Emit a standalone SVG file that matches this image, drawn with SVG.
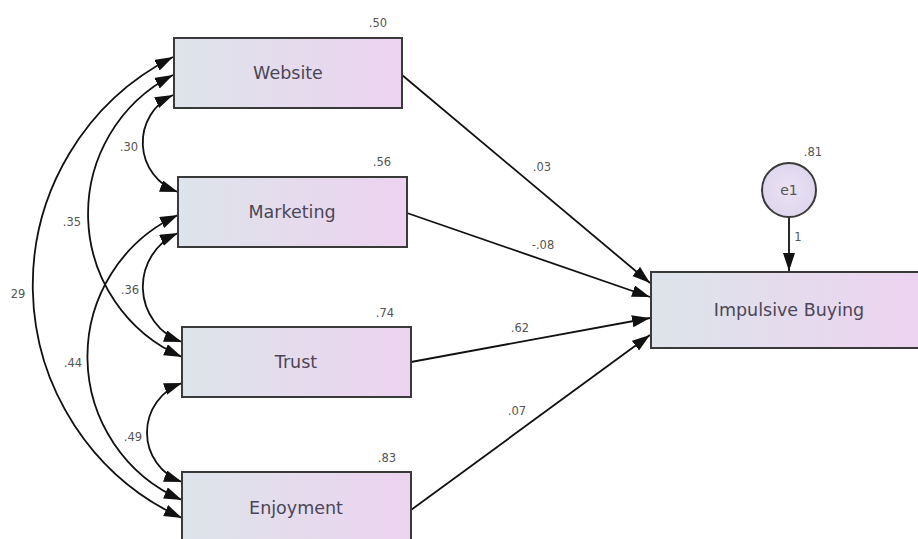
<svg xmlns="http://www.w3.org/2000/svg" width="918" height="539" viewBox="0 0 918 539">
<defs>
<linearGradient id="g" x1="0" y1="0" x2="1" y2="0">
<stop offset="0" stop-color="#dde4ea"/>
<stop offset="1" stop-color="#edd3f0"/>
</linearGradient>
<radialGradient id="gc" cx="0.5" cy="0.5" r="0.6">
<stop offset="0" stop-color="#ebe2f4"/>
<stop offset="1" stop-color="#dcd4ec"/>
</radialGradient>
<marker id="ah" markerUnits="userSpaceOnUse" markerWidth="19" markerHeight="13" refX="18" refY="6" orient="auto-start-reverse">
<path d="M0,0 L18,6 L0,12 z" fill="#111"/>
</marker>
</defs>
<style>
.box{fill:url(#g);stroke:#3a3a3a;stroke-width:2}
.lbl{font-family:"DejaVu Sans",Verdana,sans-serif;font-size:17.5px;fill:#4b4657;text-anchor:middle}
.num{font-family:"DejaVu Sans",Verdana,sans-serif;font-size:11.5px;fill:#555;text-anchor:middle}
.con{fill:none;stroke:#111;stroke-width:1.8;marker-end:url(#ah)}
.cov{fill:none;stroke:#111;stroke-width:1.8;marker-start:url(#ah);marker-end:url(#ah)}
</style>
<rect width="918" height="539" fill="#fff"/>
<g id="connectors">
<path class="con" d="M402,75 L650,283"/>
<path class="con" d="M407,213 L650,297"/>
<path class="con" d="M411,362 L650,318"/>
<path class="con" d="M411,510 L650,335"/>
<path class="con" d="M789,217 L789,271"/>
<path class="cov" d="M182,518 A256,256 0 0 1 173,57"/>
<path class="cov" d="M182,357 A156,156 0 0 1 173,75"/>
<path class="cov" d="M178,192 A52.4,52.4 0 0 1 173,95"/>
<path class="cov" d="M182,500 A156,156 0 0 1 178,215"/>
<path class="cov" d="M182,342 A58.6,58.6 0 0 1 178,233"/>
<path class="cov" d="M182,482 A52.5,52.5 0 0 1 182,383"/>
<text class="num" x="542" y="171">.03</text>
<text class="num" x="543" y="249">-.08</text>
<text class="num" x="520" y="332">.62</text>
<text class="num" x="517" y="415">.07</text>
<text class="num" x="798" y="241">1</text>
<text class="num" x="129" y="151">.30</text>
<text class="num" x="72" y="226">.35</text>
<text class="num" x="18" y="298">29</text>
<text class="num" x="130" y="294">.36</text>
<text class="num" x="73" y="367">.44</text>
<text class="num" x="133" y="441">.49</text>
</g>
<g id="website">
<rect class="box" x="174" y="38" width="228" height="70"/>
<text class="lbl" x="288" y="79">Website</text>
<text class="num" x="378" y="27">.50</text>
</g>
<g id="marketing">
<rect class="box" x="178" y="177" width="229" height="70"/>
<text class="lbl" x="292" y="218">Marketing</text>
<text class="num" x="382" y="166">.56</text>
</g>
<g id="trust">
<rect class="box" x="182" y="327" width="229" height="70"/>
<text class="lbl" x="296" y="368">Trust</text>
<text class="num" x="385" y="317">.74</text>
</g>
<g id="enjoyment">
<rect class="box" x="182" y="472" width="229" height="72"/>
<text class="lbl" x="296" y="514">Enjoyment</text>
<text class="num" x="387" y="462">.83</text>
</g>
<g id="impulsive">
<rect class="box" x="651" y="272" width="276" height="76"/>
<text class="lbl" x="789" y="316">Impulsive Buying</text>
</g>
<g id="e1">
<circle cx="789" cy="190" r="27" fill="url(#gc)" stroke="#3a3a3a" stroke-width="2"/>
<text class="num" x="789" y="195" style="font-size:14px">e1</text>
<text class="num" x="813" y="156">.81</text>
</g>
</svg>
